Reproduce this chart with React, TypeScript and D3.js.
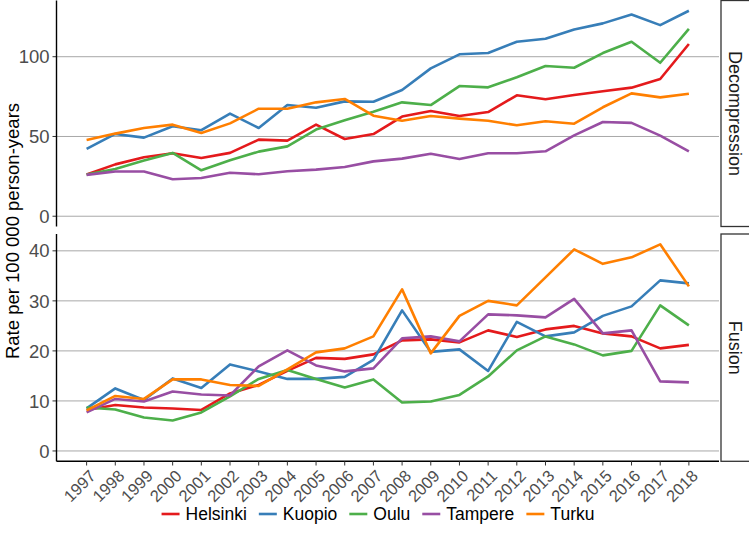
import React from "react"
import * as d3 from "d3"

const years = [1997, 1998, 1999, 2000, 2001, 2002, 2003, 2004, 2005, 2006, 2007, 2008, 2009, 2010, 2011, 2012, 2013, 2014, 2015, 2016, 2017, 2018]
const cities = ["Helsinki", "Kuopio", "Oulu", "Tampere", "Turku"]
const colors = ["#E41A1C", "#377EB8", "#4DAF4A", "#984EA3", "#FF7F00"]

// Decompression rates
const helsinkiDec = [26.1, 32.5, 37, 39.5, 36.5, 39.7, 48, 47.4, 57.4, 48.4, 51.5, 62.5, 66, 62.8, 65.3, 75.8, 73.3, 76, 78.3, 80.6, 86, 108]
const kuopioDec = [42.2, 51.6, 49.3, 56.4, 53.9, 64.3, 55.3, 69.7, 68, 72, 71.8, 79.1, 92.7, 101.5, 102.3, 109.4, 111.3, 117.1, 120.9, 126.5, 119.8, 128.8]
const ouluDec = [26.1, 29.6, 34.9, 39.7, 28.8, 35.1, 40.5, 43.8, 54.3, 60.1, 65.5, 71.4, 69.7, 81.6, 80.8, 87.1, 94.2, 93.1, 102.3, 109.4, 96.2, 117.5]
const tampereDec = [25.9, 28, 28, 23.2, 24, 27.3, 26.3, 28.2, 29.2, 30.9, 34.4, 36.1, 39.2, 35.9, 39.5, 39.5, 40.7, 50.7, 59.1, 58.5, 50.5, 40.7]
const turkuDec = [47.8, 51.8, 55.3, 57.4, 52.2, 58.2, 67.4, 67.4, 71.4, 73.5, 63, 59.9, 62.8, 61.2, 59.9, 57, 59.5, 58, 68.3, 77, 74.5, 76.8]

// Fusion rates
const helsinkiFus = [8.2, 9.2, 8.7, 8.5, 8.2, 11.5, 13.2, 16, 18.6, 18.4, 19.3, 22.1, 22.3, 21.7, 24.1, 22.8, 24.3, 25, 23.5, 22.9, 20.5, 21.2]
const kuopioFus = [8.5, 12.5, 10.2, 14.5, 12.6, 17.3, 15.9, 14.4, 14.4, 14.8, 18.2, 28.1, 19.8, 20.3, 16, 25.8, 22.9, 23.7, 27, 28.9, 34.1, 33.5]
const ouluFus = [8.7, 8.3, 6.7, 6.1, 7.7, 10.9, 14.4, 16.2, 14.4, 12.7, 14.3, 9.7, 9.9, 11.2, 14.9, 20.1, 22.9, 21.3, 19.1, 20, 29.1, 25.1]
const tampereFus = [7.7, 10.4, 9.9, 11.9, 11.3, 11.1, 16.9, 20.1, 17.1, 15.9, 16.5, 22.5, 22.9, 21.9, 27.3, 27.1, 26.7, 30.4, 23.5, 24.1, 13.9, 13.7]
const turkuFus = [8.1, 11, 10.4, 14.3, 14.3, 13.2, 13, 16.3, 19.7, 20.5, 22.9, 32.3, 19.5, 27, 30, 29.1, 34.7, 40.3, 37.4, 38.7, 41.3, 32.9]

const decTicks = [0, 50, 100]
const fusTicks = [0, 10, 20, 30, 40]

const W = 749
const H = 551
const font = "'Liberation Sans', Arial, sans-serif"
const left = 56.5
const right = 719

const expand = (vals: number[]) => {
  const lo = 0
  const hi = d3.max(vals) as number
  const pad = (hi - lo) * 0.05
  return [lo - pad, hi + pad]
}

const measure = (s: string, size: number) => {
  const c = document.createElement("canvas").getContext("2d")
  if (!c) return s.length * size * 0.55
  c.font = `${size}px ${font}`
  return c.measureText(s).width
}

export default function App() {
  const x = d3.scaleLinear().domain([years[0] - 1.05, years[years.length - 1] + 1.05]).range([left, right])
  const decSeries = [helsinkiDec, kuopioDec, ouluDec, tampereDec, turkuDec]
  const fusSeries = [helsinkiFus, kuopioFus, ouluFus, tampereFus, turkuFus]

  const panels = [
    { name: "Decompression", series: decSeries, ticks: decTicks, top: 0.5, bottom: 226.5 },
    { name: "Fusion", series: fusSeries, ticks: fusTicks, top: 234, bottom: 461.3 },
  ].map((p) => ({
    ...p,
    y: d3.scaleLinear().domain(expand(p.series.flat())).range([p.bottom, p.top]),
  }))

  // legend layout
  const legSize = 17.5
  const keyW = 18
  const keyGap = 6
  const itemGap = 12
  const widths = cities.map((c) => measure(c, legSize))
  const total = d3.sum(widths) + cities.length * (keyW + keyGap) + (cities.length - 1) * itemGap
  let cursor = 378 - total / 2
  const legendItems = cities.map((c, i) => {
    const item = { name: c, color: colors[i], x: cursor }
    cursor += keyW + keyGap + widths[i] + itemGap
    return item
  })

  return (
    <svg width={W} height={H} style={{ position: "absolute", left: 0, top: 0, background: "#fff" }} fontFamily={font}>
      {panels.map((p) => {
        const line = d3
          .line<number>()
          .x((_, i) => x(years[i]))
          .y((d) => p.y(d))
        return (
          <g key={p.name}>
            {p.ticks.map((t) => (
              <g key={t}>
                <line x1={left} x2={right} y1={p.y(t)} y2={p.y(t)} stroke="#A8A8A8" strokeWidth={1} />
                <line x1={left - 4} x2={left} y1={p.y(t)} y2={p.y(t)} stroke="#333" strokeWidth={1} />
                <text x={left - 7} y={p.y(t)} dy="0.36em" textAnchor="end" fontSize={18.5} fill="#4D4D4D">
                  {t}
                </text>
              </g>
            ))}
            {p.series.map((s, i) => (
              <path key={i} d={line(s) || ""} fill="none" stroke={colors[i]} strokeWidth={2.6} strokeLinejoin="round" />
            ))}
            <line x1={left} x2={left} y1={p.top} y2={p.bottom} stroke="#000" strokeWidth={1.4} />
            <rect x={721} y={p.top} width={40} height={p.bottom - p.top} fill="#fff" stroke="#333" strokeWidth={1.3} />
            <text
              transform={`translate(${735.5},${(p.top + p.bottom) / 2}) rotate(90)`}
              textAnchor="middle"
              dy="0.35em"
              fontSize={18}
              fill="#1A1A1A"
            >
              {p.name}
            </text>
          </g>
        )
      })}
      {/* x axis on bottom panel */}
      <line x1={left} x2={right} y1={461.3} y2={461.3} stroke="#000" strokeWidth={1.4} />
      {years.map((yr) => (
        <g key={yr}>
          <line x1={x(yr)} x2={x(yr)} y1={461.3} y2={465.5} stroke="#333" strokeWidth={1} />
          <text
            transform={`translate(${x(yr) + 6},${473}) rotate(-45)`}
            textAnchor="end"
            dy="0.35em"
            fontSize={16.5}
            fill="#4D4D4D"
          >
            {yr}
          </text>
        </g>
      ))}
      <text transform={`translate(${13},${231}) rotate(-90)`} textAnchor="middle" dy="0.35em" fontSize={18.5} fill="#000">
        Rate per 100 000 person-years
      </text>
      {legendItems.map((it) => (
        <g key={it.name}>
          <line x1={it.x} x2={it.x + keyW} y1={514} y2={514} stroke={it.color} strokeWidth={2.6} />
          <text x={it.x + keyW + keyGap} y={514} dy="0.35em" fontSize={legSize} fill="#000">
            {it.name}
          </text>
        </g>
      ))}
    </svg>
  )
}
